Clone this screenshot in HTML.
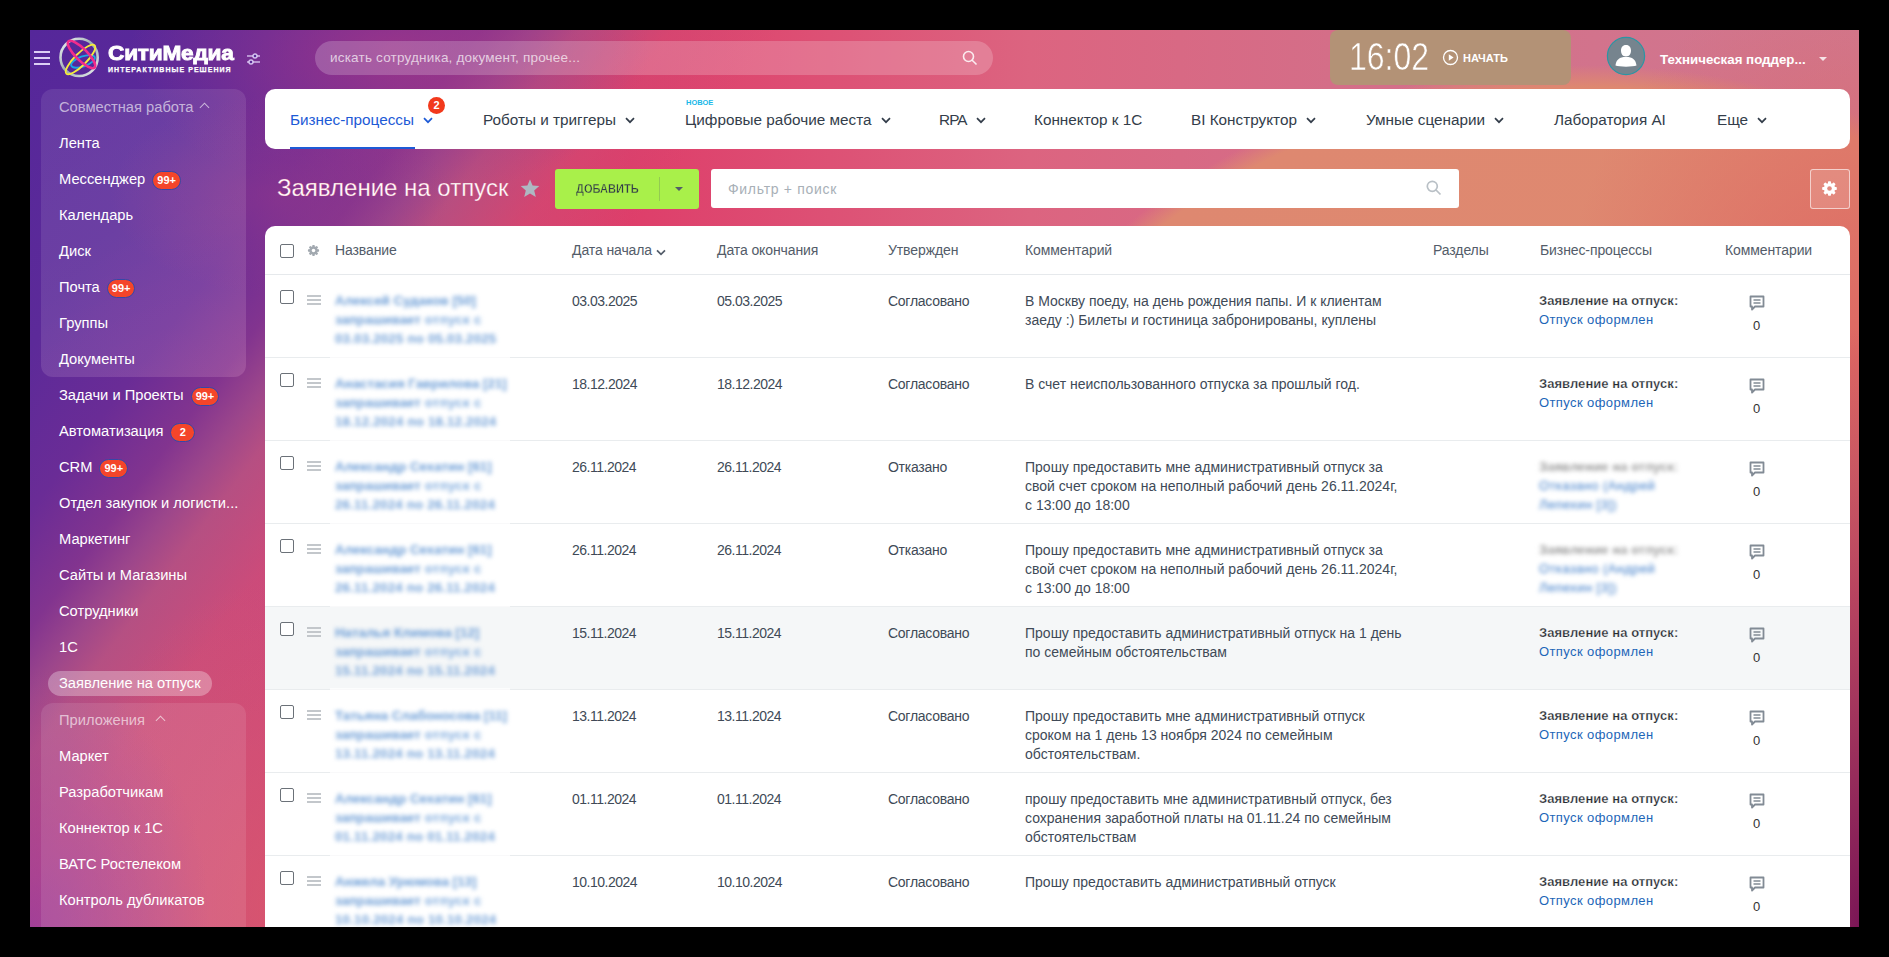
<!DOCTYPE html><html><head><meta charset="utf-8"><title>Заявление на отпуск</title><style>
*{box-sizing:border-box;margin:0;padding:0}
html,body{width:1889px;height:957px;background:#000;overflow:hidden;font-family:"Liberation Sans",sans-serif}
#pg{position:absolute;left:30px;top:30px;width:1829px;height:897px;overflow:hidden;}
#c{position:absolute;left:-30px;top:-30px;width:1889px;height:957px}
.ab{position:absolute;white-space:nowrap}
#bg{position:absolute;left:30px;top:30px;width:1829px;height:897px;
 background:
  radial-gradient(ellipse 180px 260px at 0px 897px, rgba(150,58,160,0.75), rgba(150,58,160,0) 100%),
  radial-gradient(ellipse 200px 330px at 240px 880px, rgba(222,92,102,0.55), rgba(222,92,102,0) 100%),
  radial-gradient(ellipse 170px 100px at 250px 165px, rgba(150,56,138,0.6), rgba(150,56,138,0) 100%),
  radial-gradient(ellipse 260px 150px at 360px 20px, rgba(165,55,135,0.75), rgba(165,55,135,0) 100%),
  linear-gradient(127deg, #55279a 0px, #5c2a99 190px, #6a2c96 290px, #82348f 360px, #9c468b 400px, rgba(176,80,132,0.8) 437px, rgba(200,76,120,0.35) 512px, rgba(200,76,120,0) 600px),
  radial-gradient(ellipse 160px 600px at 1829px 897px, rgba(122,22,86,1), rgba(170,48,92,0.75) 55%, rgba(190,60,95,0) 100%),
  radial-gradient(ellipse 300px 400px at 1829px 330px, rgba(222,102,98,0.95), rgba(222,102,98,0) 100%),
  radial-gradient(ellipse 650px 545px at 1556px 580px, #e08a70 0%, #de8870 96%, rgba(222,136,112,0) 100%),
  linear-gradient(90deg,#c6527e 0px,#d0487a 300px,#d8446e 450px,#de3e6a 600px,#dc6480 1000px,#d46e88 1300px,#d07890 1829px);}
.sb{position:absolute;left:59px;font-size:14.7px;color:#fff;line-height:18px;white-space:nowrap}
.bdg{display:inline-block;vertical-align:0px;margin-left:7px;height:19px;line-height:17px;padding:0 4px;border-radius:10px;background:#f4452a;border:1px solid #3448a8;color:#fff;font-size:11px;font-weight:700;text-align:center}
.nav{position:absolute;top:111px;font-size:15.3px;color:#333d4a;line-height:18px;white-space:nowrap}
.chev{display:inline-block;width:10px;height:7px;margin-left:9px;vertical-align:1px}
.th{position:absolute;top:242px;font-size:14px;color:#535c69;line-height:17px;white-space:nowrap;letter-spacing:-0.1px}
.td{position:absolute;font-size:14px;color:#404a57;line-height:19px;white-space:nowrap}
.dt{letter-spacing:-0.5px}
.cm{letter-spacing:0px}
.cb{position:absolute;left:280px;width:14px;height:14px;border:1px solid #6b7178;border-radius:2px;background:#fff}
.drag{position:absolute;left:307px;width:14px;height:10px;border-top:2px solid #c3c7cb;border-bottom:2px solid #c3c7cb}
.drag:after{content:"";position:absolute;left:0;right:0;top:2px;border-top:2px solid #c3c7cb}
.blur{filter:blur(2.2px)}
.nm{position:absolute;left:335px;font-size:13.3px;line-height:19px;white-space:nowrap;color:#2a6fc4;letter-spacing:0.3px}
.bp{position:absolute;left:1539px;font-size:13px;line-height:19px;white-space:nowrap}
.bpt{font-weight:700;color:#262b31;letter-spacing:0.05px;-webkit-text-stroke:0.25px #fff}
.bpl{color:#1d66b8;letter-spacing:0.4px}
.ci{position:absolute;left:1749px;width:16px;height:16px}
.cz{position:absolute;left:1753px;font-size:13px;color:#333;line-height:16px}
</style></head><body>
<div id="pg"><div id="c">
<div id="bg"></div>
<div class="ab" style="left:34px;top:51px;width:16px;height:2px;background:rgba(235,225,255,0.9)"></div>
<div class="ab" style="left:34px;top:57px;width:16px;height:2px;background:rgba(235,225,255,0.9)"></div>
<div class="ab" style="left:34px;top:63px;width:16px;height:2px;background:rgba(235,225,255,0.9)"></div>
<svg class="ab" style="left:58px;top:37px" width="42" height="42" viewBox="0 0 42 42">
<defs><linearGradient id="rg" x1="0" y1="0" x2="1" y2="1"><stop offset="0" stop-color="#f4f8f8"/><stop offset="0.5" stop-color="#9aaaae"/><stop offset="1" stop-color="#eef2f2"/></linearGradient></defs>
<circle cx="21.1" cy="20.4" r="18.6" fill="none" stroke="url(#rg)" stroke-width="2.6"/>
<ellipse cx="25" cy="24.4" rx="12.5" ry="5" fill="none" stroke="#1aa6e6" stroke-width="1.8" transform="rotate(-20 25 24.4)"/>
<ellipse cx="22.5" cy="22.5" rx="20" ry="6" fill="none" stroke="#f6ec3a" stroke-width="1.8" transform="rotate(-45 22.5 22.5)"/>
<ellipse cx="23.5" cy="17.5" rx="18.5" ry="5.8" fill="none" stroke="#f22c8c" stroke-width="2.6" transform="rotate(45 23.5 17.5)"/>
</svg>
<div class="ab" style="left:108px;top:42px;font-size:20.6px;font-weight:700;color:#fff;line-height:22px;letter-spacing:-0.2px;-webkit-text-stroke:0.9px #fff;transform:scaleX(1.1);transform-origin:0 0">СитиМедиа</div>
<div class="ab" style="left:108px;top:66px;font-size:7px;font-weight:700;color:#fff;line-height:8px;letter-spacing:1.05px;-webkit-text-stroke:0.25px #fff">ИНТЕРАКТИВНЫЕ РЕШЕНИЯ</div>
<svg class="ab" style="left:246px;top:53px" width="15" height="12" viewBox="0 0 15 12">
<g stroke="rgba(230,220,255,0.85)" stroke-width="1.4" fill="none"><line x1="1" y1="3" x2="14" y2="3"/><line x1="1" y1="9" x2="14" y2="9"/>
<circle cx="9" cy="3" r="2" fill="#5a2a98"/><circle cx="5" cy="9" r="2" fill="#5a2a98"/></g></svg>
<div class="ab" style="left:315px;top:41px;width:678px;height:34px;border-radius:17px;background:rgba(255,255,255,0.2)"></div>
<div class="ab" style="left:330px;top:50px;font-size:13.5px;line-height:16px;color:rgba(255,255,255,0.7);letter-spacing:0.2px">искать сотрудника, документ, прочее...</div>
<svg class="ab" style="left:962px;top:50px" width="16" height="16" viewBox="0 0 16 16"><g stroke="rgba(255,255,255,0.85)" stroke-width="1.6" fill="none"><circle cx="6.5" cy="6.5" r="5"/><line x1="10.2" y1="10.2" x2="14.5" y2="14.5"/></g></svg>
<div class="ab" style="left:1330px;top:30px;width:241px;height:55px;border-radius:8px;background:#b39276"></div>
<div class="ab" style="left:1349px;top:37px;font-size:39px;line-height:40px;color:#fff;letter-spacing:0px;font-weight:400;transform:scaleX(0.82);transform-origin:0 0;-webkit-text-stroke:0.6px #b39276">16:02</div>
<svg class="ab" style="left:1442px;top:49px" width="17" height="17" viewBox="0 0 17 17"><circle cx="8.5" cy="8.5" r="7" fill="none" stroke="#fff" stroke-width="1.3"/><path d="M6.8 5.3 L11.6 8.5 L6.8 11.7 Z" fill="#fff"/></svg>
<div class="ab" style="left:1463px;top:52px;font-size:11px;font-weight:700;line-height:13px;color:#fff">НАЧАТЬ</div>
<svg class="ab" style="left:1606px;top:36px" width="40" height="40" viewBox="0 0 40 40"><circle cx="20" cy="20" r="18.6" fill="#76848e" stroke="#2a96a4" stroke-width="1.2"/>
<path d="M20 9 C23.5 9 25 11.5 25 14.5 C25 17.5 23.5 20.5 20 20.5 C16.5 20.5 15 17.5 15 14.5 C15 11.5 16.5 9 20 9 Z M17.5 21 L22.5 21 C28 22 30 25 30.5 29.5 C27 31 13 31 9.5 29.5 C10 25 12 22 17.5 21 Z" fill="#fff"/></svg>
<div class="ab" style="left:1660px;top:52px;font-size:13.3px;font-weight:700;line-height:16px;color:#fff">Техническая поддер...</div>
<div class="ab" style="left:1819px;top:57px;width:0;height:0;border-left:4px solid transparent;border-right:4px solid transparent;border-top:4px solid rgba(255,255,255,0.8)"></div>
<div class="ab" style="left:41px;top:89px;width:205px;height:288px;border-radius:12px;background:linear-gradient(150deg,rgba(255,255,255,0.09),rgba(255,255,255,0.1) 50%,rgba(255,200,230,0.17))"></div>
<div class="ab" style="left:41px;top:703px;width:205px;height:260px;border-radius:12px;background:rgba(255,255,255,0.1)"></div>
<div class="ab" style="left:48px;top:671px;width:164px;height:25px;border-radius:13px;background:rgba(255,255,255,0.3)"></div>
<div class="sb" style="top:98px;color:rgba(255,255,255,0.62)">Совместная работа</div><div class="ab" style="left:201px;top:104px;width:7px;height:7px;border-left:1.6px solid rgba(255,255,255,0.62);border-top:1.6px solid rgba(255,255,255,0.62);transform:rotate(45deg)"></div>
<div class="sb" style="top:134px">Лента</div>
<div class="sb" style="top:170px">Мессенджер<span class="bdg" style="">99+</span></div>
<div class="sb" style="top:206px">Календарь</div>
<div class="sb" style="top:242px">Диск</div>
<div class="sb" style="top:278px">Почта<span class="bdg" style="">99+</span></div>
<div class="sb" style="top:314px">Группы</div>
<div class="sb" style="top:350px">Документы</div>
<div class="sb" style="top:386px">Задачи и Проекты<span class="bdg" style="">99+</span></div>
<div class="sb" style="top:422px">Автоматизация<span class="bdg" style="min-width:25px">2</span></div>
<div class="sb" style="top:458px">CRM<span class="bdg" style="">99+</span></div>
<div class="sb" style="top:494px">Отдел закупок и логисти...</div>
<div class="sb" style="top:530px">Маркетинг</div>
<div class="sb" style="top:566px">Сайты и Магазины</div>
<div class="sb" style="top:602px">Сотрудники</div>
<div class="sb" style="top:638px">1С</div>
<div class="sb" style="top:674px">Заявление на отпуск</div>
<div class="sb" style="top:711px;color:rgba(255,255,255,0.62)">Приложения</div><div class="ab" style="left:157px;top:717px;width:7px;height:7px;border-left:1.6px solid rgba(255,255,255,0.62);border-top:1.6px solid rgba(255,255,255,0.62);transform:rotate(45deg)"></div>
<div class="sb" style="top:747px">Маркет</div>
<div class="sb" style="top:783px">Разработчикам</div>
<div class="sb" style="top:819px">Коннектор к 1С</div>
<div class="sb" style="top:855px">ВАТС Ростелеком</div>
<div class="sb" style="top:891px">Контроль дубликатов</div>
<div class="ab" style="left:265px;top:89px;width:1585px;height:60px;border-radius:10px;background:#fff"></div>
<div class="nav" style="left:290px;color:#1d5ad6">Бизнес-процессы<svg class="chev" viewBox="0 0 10 7"><path d="M1 1.2 L5 5.2 L9 1.2" fill="none" stroke="#1d5ad6" stroke-width="1.7"/></svg></div>
<div class="nav" style="left:483px;color:#333d4a">Роботы и триггеры<svg class="chev" viewBox="0 0 10 7"><path d="M1 1.2 L5 5.2 L9 1.2" fill="none" stroke="#333d4a" stroke-width="1.7"/></svg></div>
<div class="nav" style="left:685px;color:#333d4a">Цифровые рабочие места<svg class="chev" viewBox="0 0 10 7"><path d="M1 1.2 L5 5.2 L9 1.2" fill="none" stroke="#333d4a" stroke-width="1.7"/></svg></div>
<div class="nav" style="left:939px;color:#333d4a"><span style='letter-spacing:-0.9px'>RPA</span><svg class="chev" viewBox="0 0 10 7"><path d="M1 1.2 L5 5.2 L9 1.2" fill="none" stroke="#333d4a" stroke-width="1.7"/></svg></div>
<div class="nav" style="left:1034px;color:#333d4a">Коннектор к 1С</div>
<div class="nav" style="left:1191px;color:#333d4a">BI Конструктор<svg class="chev" viewBox="0 0 10 7"><path d="M1 1.2 L5 5.2 L9 1.2" fill="none" stroke="#333d4a" stroke-width="1.7"/></svg></div>
<div class="nav" style="left:1366px;color:#333d4a">Умные сценарии<svg class="chev" viewBox="0 0 10 7"><path d="M1 1.2 L5 5.2 L9 1.2" fill="none" stroke="#333d4a" stroke-width="1.7"/></svg></div>
<div class="nav" style="left:1554px;color:#333d4a">Лаборатория AI</div>
<div class="nav" style="left:1717px;color:#333d4a">Еще<svg class="chev" viewBox="0 0 10 7"><path d="M1 1.2 L5 5.2 L9 1.2" fill="none" stroke="#333d4a" stroke-width="1.7"/></svg></div>
<div class="ab" style="left:290px;top:146.5px;width:125px;height:2.5px;background:#1d5ad6"></div>
<div class="ab" style="left:428px;top:97px;width:17px;height:17px;border-radius:50%;background:#f2391c;color:#fff;font-size:11px;font-weight:700;line-height:17px;text-align:center">2</div>
<div class="ab" style="left:686px;top:99px;font-size:7.5px;font-weight:700;line-height:8px;color:#19b8e8">НОВОЕ</div>
<div class="ab" style="left:277px;top:174px;font-size:24px;line-height:28px;color:#fff;-webkit-text-stroke:0.5px rgba(200,70,120,0.6)">Заявление на отпуск</div>
<svg class="ab" style="left:520px;top:179px" width="20" height="19" viewBox="0 0 20 19"><path d="M10 0.5 L12.6 6.6 L19.3 7.1 L14.2 11.4 L15.8 18 L10 14.5 L4.2 18 L5.8 11.4 L0.7 7.1 L7.4 6.6 Z" fill="#aeb8c2"/></svg>
<div class="ab" style="left:555px;top:169px;width:144px;height:40px;border-radius:3px;background:#a9f04a"></div>
<div class="ab" style="left:576px;top:182px;font-size:12.5px;font-weight:700;line-height:14px;color:#333d4a;transform:scaleX(0.885);transform-origin:0 0;-webkit-text-stroke:0.35px #a9f04a">ДОБАВИТЬ</div>
<div class="ab" style="left:659px;top:177px;width:1px;height:24px;background:rgba(83,92,105,0.25)"></div>
<div class="ab" style="left:675px;top:187px;width:0;height:0;border-left:4px solid transparent;border-right:4px solid transparent;border-top:4px solid #535c69"></div>
<div class="ab" style="left:711px;top:169px;width:748px;height:39px;border-radius:3px;background:#fff"></div>
<div class="ab" style="left:728px;top:181px;font-size:14px;line-height:17px;color:#a8b0b7;letter-spacing:0.7px">Фильтр + поиск</div>
<svg class="ab" style="left:1426px;top:180px" width="16" height="16" viewBox="0 0 16 16"><g stroke="#b9c0c6" stroke-width="1.7" fill="none"><circle cx="6.3" cy="6.3" r="5"/><line x1="10" y1="10" x2="14.5" y2="14.5"/></g></svg>
<div class="ab" style="left:1810px;top:169px;width:40px;height:40px;border-radius:3px;background:rgba(255,255,255,0.15);border:1px solid rgba(255,255,255,0.6)"></div>
<svg class="ab" style="left:1821px;top:180px" width="17" height="17" viewBox="0 0 17 17"><g fill="#fff"><circle cx="8.5" cy="8.5" r="5.6"/><rect x="7" y="1.2" width="3" height="4" rx="0.8" transform="rotate(0 8.5 8.5)"/><rect x="7" y="1.2" width="3" height="4" rx="0.8" transform="rotate(45 8.5 8.5)"/><rect x="7" y="1.2" width="3" height="4" rx="0.8" transform="rotate(90 8.5 8.5)"/><rect x="7" y="1.2" width="3" height="4" rx="0.8" transform="rotate(135 8.5 8.5)"/><rect x="7" y="1.2" width="3" height="4" rx="0.8" transform="rotate(180 8.5 8.5)"/><rect x="7" y="1.2" width="3" height="4" rx="0.8" transform="rotate(225 8.5 8.5)"/><rect x="7" y="1.2" width="3" height="4" rx="0.8" transform="rotate(270 8.5 8.5)"/><rect x="7" y="1.2" width="3" height="4" rx="0.8" transform="rotate(315 8.5 8.5)"/></g><circle cx="8.5" cy="8.5" r="2.3" fill="#e08a80"/></svg>
<div class="ab" style="left:265px;top:226px;width:1585px;height:720px;border-radius:10px 10px 0 0;background:#fff"></div>
<div class="ab" style="left:265px;top:274px;width:1585px;height:1px;background:#e6e9ec"></div>
<div class="cb" style="top:244px"></div>
<svg class="ab" style="left:307px;top:244px" width="13" height="13" viewBox="0 0 17 17"><g fill="#a2a9b0"><circle cx="8.5" cy="8.5" r="5.6"/><rect x="7" y="1.2" width="3" height="4" rx="0.8" transform="rotate(0 8.5 8.5)"/><rect x="7" y="1.2" width="3" height="4" rx="0.8" transform="rotate(45 8.5 8.5)"/><rect x="7" y="1.2" width="3" height="4" rx="0.8" transform="rotate(90 8.5 8.5)"/><rect x="7" y="1.2" width="3" height="4" rx="0.8" transform="rotate(135 8.5 8.5)"/><rect x="7" y="1.2" width="3" height="4" rx="0.8" transform="rotate(180 8.5 8.5)"/><rect x="7" y="1.2" width="3" height="4" rx="0.8" transform="rotate(225 8.5 8.5)"/><rect x="7" y="1.2" width="3" height="4" rx="0.8" transform="rotate(270 8.5 8.5)"/><rect x="7" y="1.2" width="3" height="4" rx="0.8" transform="rotate(315 8.5 8.5)"/></g><circle cx="8.5" cy="8.5" r="2.3" fill="#fff"/></svg>
<div class="th" style="left:335px">Название</div>
<div class="th" style="left:572px">Дата начала</div>
<div class="th" style="left:717px">Дата окончания</div>
<div class="th" style="left:888px">Утвержден</div>
<div class="th" style="left:1025px">Комментарий</div>
<div class="th" style="left:1433px">Разделы</div>
<div class="th" style="left:1540px">Бизнес-процессы</div>
<div class="th" style="left:1725px">Комментарии</div>
<svg class="ab" style="left:656px;top:249px" width="10" height="7" viewBox="0 0 10 7"><path d="M1 1.3 L5 5.3 L9 1.3" fill="none" stroke="#535c69" stroke-width="1.7"/></svg>
<div class="ab" style="left:265px;top:357px;width:1585px;height:1px;background:#e9ecee"></div>
<div class="ab" style="left:330px;top:356px;width:180px;height:3px;background:rgba(255,255,255,0.7)"></div>
<div class="cb" style="top:290px"></div>
<div class="drag" style="top:295px"></div>
<div class="nm blur" style="top:291px"><span style="color:#6a9cd6;font-weight:700;letter-spacing:0px">Алексей Судаков [50]</span><br><span style="color:#6e9ed6;font-weight:700;letter-spacing:0px">запрашивает</span> <span style="color:#80acde;font-weight:700">отпуск с</span><br><span style="color:#74a2d8;font-weight:700;letter-spacing:0.2px">03.03.2025 по 05.03.2025</span></div>
<div class="td dt" style="left:572px;top:292px">03.03.2025</div>
<div class="td dt" style="left:717px;top:292px">05.03.2025</div>
<div class="td" style="left:888px;top:292px;letter-spacing:-0.27px">Согласовано</div>
<div class="td cm" style="left:1025px;top:292px">В Москву поеду, на день рождения папы. И к клиентам<br>заеду :) Билеты и гостиница забронированы, куплены</div>
<div class="bp" style="top:291px"><span class="bpt">Заявление на отпуск:</span><br><span class="bpl">Отпуск оформлен</span></div>
<svg class="ci" style="top:295px" viewBox="0 0 16 16"><path d="M1.5 1.5 H14.5 V11.5 H6 L3 14.5 V11.5 H1.5 Z" fill="none" stroke="#828b95" stroke-width="1.8" stroke-linejoin="round"/><line x1="4.5" y1="5" x2="11.5" y2="5" stroke="#828b95" stroke-width="1.5"/><line x1="4.5" y1="8" x2="11.5" y2="8" stroke="#828b95" stroke-width="1.5"/></svg>
<div class="cz" style="top:318px">0</div>
<div class="ab" style="left:265px;top:440px;width:1585px;height:1px;background:#e9ecee"></div>
<div class="ab" style="left:330px;top:439px;width:180px;height:3px;background:rgba(255,255,255,0.7)"></div>
<div class="cb" style="top:373px"></div>
<div class="drag" style="top:378px"></div>
<div class="nm blur" style="top:374px"><span style="color:#6a9cd6;font-weight:700;letter-spacing:0px">Анастасия Гаврилова [21]</span><br><span style="color:#6e9ed6;font-weight:700;letter-spacing:0px">запрашивает</span> <span style="color:#80acde;font-weight:700">отпуск с</span><br><span style="color:#74a2d8;font-weight:700;letter-spacing:0.2px">18.12.2024 по 18.12.2024</span></div>
<div class="td dt" style="left:572px;top:375px">18.12.2024</div>
<div class="td dt" style="left:717px;top:375px">18.12.2024</div>
<div class="td" style="left:888px;top:375px;letter-spacing:-0.27px">Согласовано</div>
<div class="td cm" style="left:1025px;top:375px">В счет неиспользованного отпуска за прошлый год.</div>
<div class="bp" style="top:374px"><span class="bpt">Заявление на отпуск:</span><br><span class="bpl">Отпуск оформлен</span></div>
<svg class="ci" style="top:378px" viewBox="0 0 16 16"><path d="M1.5 1.5 H14.5 V11.5 H6 L3 14.5 V11.5 H1.5 Z" fill="none" stroke="#828b95" stroke-width="1.8" stroke-linejoin="round"/><line x1="4.5" y1="5" x2="11.5" y2="5" stroke="#828b95" stroke-width="1.5"/><line x1="4.5" y1="8" x2="11.5" y2="8" stroke="#828b95" stroke-width="1.5"/></svg>
<div class="cz" style="top:401px">0</div>
<div class="ab" style="left:265px;top:523px;width:1585px;height:1px;background:#e9ecee"></div>
<div class="ab" style="left:330px;top:522px;width:180px;height:3px;background:rgba(255,255,255,0.7)"></div>
<div class="cb" style="top:456px"></div>
<div class="drag" style="top:461px"></div>
<div class="nm blur" style="top:457px"><span style="color:#6a9cd6;font-weight:700;letter-spacing:0px">Александр Сехатин [61]</span><br><span style="color:#6e9ed6;font-weight:700;letter-spacing:0px">запрашивает</span> <span style="color:#80acde;font-weight:700">отпуск с</span><br><span style="color:#74a2d8;font-weight:700;letter-spacing:0.2px">26.11.2024 по 26.11.2024</span></div>
<div class="td dt" style="left:572px;top:458px">26.11.2024</div>
<div class="td dt" style="left:717px;top:458px">26.11.2024</div>
<div class="td" style="left:888px;top:458px;letter-spacing:-0.27px">Отказано</div>
<div class="td cm" style="left:1025px;top:458px">Прошу предоставить мне административный отпуск за<br>свой счет сроком на неполный рабочий день 26.11.2024г,<br>с 13:00 до 18:00</div>
<div class="bp blur" style="top:457px"><span class="bpt" style="color:#808080">Заявление на отпуск:</span><br><span class="bpl" style="color:#3a7ac8">Отказано (Андрей</span><br><span class="bpl" style="color:#3a7ac8">Лепехин [3])</span></div>
<svg class="ci" style="top:461px" viewBox="0 0 16 16"><path d="M1.5 1.5 H14.5 V11.5 H6 L3 14.5 V11.5 H1.5 Z" fill="none" stroke="#828b95" stroke-width="1.8" stroke-linejoin="round"/><line x1="4.5" y1="5" x2="11.5" y2="5" stroke="#828b95" stroke-width="1.5"/><line x1="4.5" y1="8" x2="11.5" y2="8" stroke="#828b95" stroke-width="1.5"/></svg>
<div class="cz" style="top:484px">0</div>
<div class="ab" style="left:265px;top:606px;width:1585px;height:1px;background:#e9ecee"></div>
<div class="ab" style="left:330px;top:605px;width:180px;height:3px;background:rgba(255,255,255,0.7)"></div>
<div class="cb" style="top:539px"></div>
<div class="drag" style="top:544px"></div>
<div class="nm blur" style="top:540px"><span style="color:#6a9cd6;font-weight:700;letter-spacing:0px">Александр Сехатин [61]</span><br><span style="color:#6e9ed6;font-weight:700;letter-spacing:0px">запрашивает</span> <span style="color:#80acde;font-weight:700">отпуск с</span><br><span style="color:#74a2d8;font-weight:700;letter-spacing:0.2px">26.11.2024 по 26.11.2024</span></div>
<div class="td dt" style="left:572px;top:541px">26.11.2024</div>
<div class="td dt" style="left:717px;top:541px">26.11.2024</div>
<div class="td" style="left:888px;top:541px;letter-spacing:-0.27px">Отказано</div>
<div class="td cm" style="left:1025px;top:541px">Прошу предоставить мне административный отпуск за<br>свой счет сроком на неполный рабочий день 26.11.2024г,<br>с 13:00 до 18:00</div>
<div class="bp blur" style="top:540px"><span class="bpt" style="color:#808080">Заявление на отпуск:</span><br><span class="bpl" style="color:#3a7ac8">Отказано (Андрей</span><br><span class="bpl" style="color:#3a7ac8">Лепехин [3])</span></div>
<svg class="ci" style="top:544px" viewBox="0 0 16 16"><path d="M1.5 1.5 H14.5 V11.5 H6 L3 14.5 V11.5 H1.5 Z" fill="none" stroke="#828b95" stroke-width="1.8" stroke-linejoin="round"/><line x1="4.5" y1="5" x2="11.5" y2="5" stroke="#828b95" stroke-width="1.5"/><line x1="4.5" y1="8" x2="11.5" y2="8" stroke="#828b95" stroke-width="1.5"/></svg>
<div class="cz" style="top:567px">0</div>
<div class="ab" style="left:265px;top:607px;width:1585px;height:82px;background:#f5f7f8"></div>
<div class="ab" style="left:265px;top:689px;width:1585px;height:1px;background:#e9ecee"></div>
<div class="ab" style="left:330px;top:688px;width:180px;height:3px;background:rgba(255,255,255,0.7)"></div>
<div class="cb" style="top:622px"></div>
<div class="drag" style="top:627px"></div>
<div class="nm blur" style="top:623px"><span style="color:#6a9cd6;font-weight:700;letter-spacing:0px">Наталья Климова [12]</span><br><span style="color:#6e9ed6;font-weight:700;letter-spacing:0px">запрашивает</span> <span style="color:#80acde;font-weight:700">отпуск с</span><br><span style="color:#74a2d8;font-weight:700;letter-spacing:0.2px">15.11.2024 по 15.11.2024</span></div>
<div class="td dt" style="left:572px;top:624px">15.11.2024</div>
<div class="td dt" style="left:717px;top:624px">15.11.2024</div>
<div class="td" style="left:888px;top:624px;letter-spacing:-0.27px">Согласовано</div>
<div class="td cm" style="left:1025px;top:624px">Прошу предоставить административный отпуск на 1 день<br>по семейным обстоятельствам</div>
<div class="bp" style="top:623px"><span class="bpt">Заявление на отпуск:</span><br><span class="bpl">Отпуск оформлен</span></div>
<svg class="ci" style="top:627px" viewBox="0 0 16 16"><path d="M1.5 1.5 H14.5 V11.5 H6 L3 14.5 V11.5 H1.5 Z" fill="none" stroke="#828b95" stroke-width="1.8" stroke-linejoin="round"/><line x1="4.5" y1="5" x2="11.5" y2="5" stroke="#828b95" stroke-width="1.5"/><line x1="4.5" y1="8" x2="11.5" y2="8" stroke="#828b95" stroke-width="1.5"/></svg>
<div class="cz" style="top:650px">0</div>
<div class="ab" style="left:265px;top:772px;width:1585px;height:1px;background:#e9ecee"></div>
<div class="ab" style="left:330px;top:771px;width:180px;height:3px;background:rgba(255,255,255,0.7)"></div>
<div class="cb" style="top:705px"></div>
<div class="drag" style="top:710px"></div>
<div class="nm blur" style="top:706px"><span style="color:#6a9cd6;font-weight:700;letter-spacing:0px">Татьяна Слабоносова [11]</span><br><span style="color:#6e9ed6;font-weight:700;letter-spacing:0px">запрашивает</span> <span style="color:#80acde;font-weight:700">отпуск с</span><br><span style="color:#74a2d8;font-weight:700;letter-spacing:0.2px">13.11.2024 по 13.11.2024</span></div>
<div class="td dt" style="left:572px;top:707px">13.11.2024</div>
<div class="td dt" style="left:717px;top:707px">13.11.2024</div>
<div class="td" style="left:888px;top:707px;letter-spacing:-0.27px">Согласовано</div>
<div class="td cm" style="left:1025px;top:707px">Прошу предоставить мне административный отпуск<br>сроком на 1 день 13 ноября 2024 по семейным<br>обстоятельствам.</div>
<div class="bp" style="top:706px"><span class="bpt">Заявление на отпуск:</span><br><span class="bpl">Отпуск оформлен</span></div>
<svg class="ci" style="top:710px" viewBox="0 0 16 16"><path d="M1.5 1.5 H14.5 V11.5 H6 L3 14.5 V11.5 H1.5 Z" fill="none" stroke="#828b95" stroke-width="1.8" stroke-linejoin="round"/><line x1="4.5" y1="5" x2="11.5" y2="5" stroke="#828b95" stroke-width="1.5"/><line x1="4.5" y1="8" x2="11.5" y2="8" stroke="#828b95" stroke-width="1.5"/></svg>
<div class="cz" style="top:733px">0</div>
<div class="ab" style="left:265px;top:855px;width:1585px;height:1px;background:#e9ecee"></div>
<div class="ab" style="left:330px;top:854px;width:180px;height:3px;background:rgba(255,255,255,0.7)"></div>
<div class="cb" style="top:788px"></div>
<div class="drag" style="top:793px"></div>
<div class="nm blur" style="top:789px"><span style="color:#6a9cd6;font-weight:700;letter-spacing:0px">Александр Сехатин [61]</span><br><span style="color:#6e9ed6;font-weight:700;letter-spacing:0px">запрашивает</span> <span style="color:#80acde;font-weight:700">отпуск с</span><br><span style="color:#74a2d8;font-weight:700;letter-spacing:0.2px">01.11.2024 по 01.11.2024</span></div>
<div class="td dt" style="left:572px;top:790px">01.11.2024</div>
<div class="td dt" style="left:717px;top:790px">01.11.2024</div>
<div class="td" style="left:888px;top:790px;letter-spacing:-0.27px">Согласовано</div>
<div class="td cm" style="left:1025px;top:790px">прошу предоставить мне административный отпуск, без<br>сохранения заработной платы на 01.11.24 по семейным<br>обстоятельствам</div>
<div class="bp" style="top:789px"><span class="bpt">Заявление на отпуск:</span><br><span class="bpl">Отпуск оформлен</span></div>
<svg class="ci" style="top:793px" viewBox="0 0 16 16"><path d="M1.5 1.5 H14.5 V11.5 H6 L3 14.5 V11.5 H1.5 Z" fill="none" stroke="#828b95" stroke-width="1.8" stroke-linejoin="round"/><line x1="4.5" y1="5" x2="11.5" y2="5" stroke="#828b95" stroke-width="1.5"/><line x1="4.5" y1="8" x2="11.5" y2="8" stroke="#828b95" stroke-width="1.5"/></svg>
<div class="cz" style="top:816px">0</div>
<div class="ab" style="left:265px;top:938px;width:1585px;height:1px;background:#e9ecee"></div>
<div class="ab" style="left:330px;top:937px;width:180px;height:3px;background:rgba(255,255,255,0.7)"></div>
<div class="cb" style="top:871px"></div>
<div class="drag" style="top:876px"></div>
<div class="nm blur" style="top:872px"><span style="color:#6a9cd6;font-weight:700;letter-spacing:0px">Анжела Урюмова [13]</span><br><span style="color:#6e9ed6;font-weight:700;letter-spacing:0px">запрашивает</span> <span style="color:#80acde;font-weight:700">отпуск с</span><br><span style="color:#74a2d8;font-weight:700;letter-spacing:0.2px">10.10.2024 по 10.10.2024</span></div>
<div class="td dt" style="left:572px;top:873px">10.10.2024</div>
<div class="td dt" style="left:717px;top:873px">10.10.2024</div>
<div class="td" style="left:888px;top:873px;letter-spacing:-0.27px">Согласовано</div>
<div class="td cm" style="left:1025px;top:873px">Прошу предоставить административный отпуск</div>
<div class="bp" style="top:872px"><span class="bpt">Заявление на отпуск:</span><br><span class="bpl">Отпуск оформлен</span></div>
<svg class="ci" style="top:876px" viewBox="0 0 16 16"><path d="M1.5 1.5 H14.5 V11.5 H6 L3 14.5 V11.5 H1.5 Z" fill="none" stroke="#828b95" stroke-width="1.8" stroke-linejoin="round"/><line x1="4.5" y1="5" x2="11.5" y2="5" stroke="#828b95" stroke-width="1.5"/><line x1="4.5" y1="8" x2="11.5" y2="8" stroke="#828b95" stroke-width="1.5"/></svg>
<div class="cz" style="top:899px">0</div>
</div></div></body></html>
